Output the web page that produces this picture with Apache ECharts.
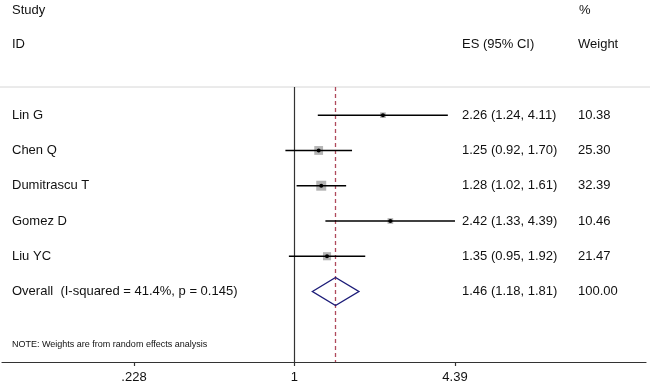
<!DOCTYPE html>
<html>
<head>
<meta charset="utf-8">
<script src="https://cdn.jsdelivr.net/npm/echarts@6/dist/echarts.min.js"></script>
<style>
  html, body { margin: 0; padding: 0; background: #fff; }
  #chart { width: 650px; height: 388px; }
</style>
</head>
<body>
<div id="chart"></div>
<script>
// study rows
const studies = ['Lin G', 'Chen Q', 'Dumitrascu T', 'Gomez D', 'Liu YC'];
const es = [2.26, 1.25, 1.28, 2.42, 1.35];
const lower = [1.24, 0.92, 1.02, 1.33, 0.95];
const upper = [4.11, 1.70, 1.61, 4.39, 1.92];
const weights = ['10.38', '25.30', '32.39', '10.46', '21.47'];

// pooled estimate
const overallLabel = 'Overall  (I-squared = 41.4%, p = 0.145)';
const overallEs = 1.46;
const overallLower = 1.18;
const overallUpper = 1.81;
const overallWeight = '100.00';

// axis ticks (log scale, shown as ln on a value axis)
const tickValues = [0.228, 1, 4.39];
const tickLabels = ['.228', '1', '4.39'];

const FONT = '"Liberation Sans", Arial, sans-serif';
const fmtCI = (e, l, u) => e.toFixed(2) + ' (' + l.toFixed(2) + ', ' + u.toFixed(2) + ')';

// layout: where the outer ticks should land, and the grid edges
const gridLeft = 2, gridRight = 4;
const tickLeftPx = 134, tickRightPx = 455;
const lnT0 = Math.log(tickValues[0]), lnT2 = Math.log(tickValues[2]);
const pxPerUnit = (tickRightPx - tickLeftPx) / (lnT2 - lnT0);
const xMin = lnT0 - (tickLeftPx - gridLeft) / pxPerUnit;
const xMax = lnT2 + (650 - gridRight - tickRightPx) / pxPerUnit;

const colName = 12, colES = 462, colW = 578;

const chart = echarts.init(document.getElementById('chart'));

const textStyle = (txt, x, y, size) => ({
  type: 'text',
  style: { text: txt, x: x, y: y, fill: '#111', font: (size || 13) + 'px ' + FONT, verticalAlign: 'middle' }
});

const studyData = studies.map((s, i) => [Math.log(es[i]), i, Math.log(lower[i]), Math.log(upper[i]), i]);

const option = {
  animation: false,
  textStyle: { fontFamily: FONT },
  grid: { left: gridLeft, right: gridRight, top: 87, bottom: 26 },
  xAxis: {
    type: 'value',
    min: xMin,
    max: xMax,
    axisLine: { show: true, onZero: false, lineStyle: { color: '#333', width: 1.2 } },
    axisTick: { show: true, length: 4, lineStyle: { color: '#333', width: 1.2 }, customValues: tickValues.map(Math.log) },
    axisLabel: {
      color: '#111', fontSize: 13, fontFamily: FONT, margin: 9,
      customValues: tickValues.map(Math.log),
      formatter: (v) => {
        const idx = tickValues.findIndex(t => Math.abs(Math.log(t) - v) < 1e-6);
        return idx >= 0 ? tickLabels[idx] : '';
      }
    },
    splitLine: { show: false }
  },
  yAxis: { type: 'value', inverse: true, min: -0.8, max: 7, show: false },
  graphic: [
    { type: 'line', shape: { x1: 0, y1: 87, x2: 650, y2: 87 }, style: { stroke: '#d6d6d6', lineWidth: 1 }, z: 0 },
    textStyle('Study', colName, 10),
    textStyle('ID', colName, 44),
    textStyle('ES (95% CI)', colES, 44),
    textStyle('%', colW + 1, 10),
    textStyle('Weight', colW, 44),
    textStyle('NOTE: Weights are from random effects analysis', colName, 345, 9)
  ],
  series: [
    {
      type: 'custom',
      name: 'studies',
      data: studyData,
      z: 5,
      renderItem: (params, api) => {
        const i = api.value(4);
        const c = api.coord([api.value(0), api.value(1)]);
        const lo = api.coord([api.value(2), api.value(1)]);
        const hi = api.coord([api.value(3), api.value(1)]);
        const side = 1.75 * Math.sqrt(parseFloat(weights[i]));
        return {
          type: 'group',
          children: [
            { type: 'rect', shape: { x: c[0] - side / 2, y: c[1] - side / 2, width: side, height: side },
              style: { fill: '#b4b4b4' } },
            { type: 'line', shape: { x1: lo[0], y1: lo[1], x2: hi[0], y2: hi[1] },
              style: { stroke: '#000', lineWidth: 1.4 } },
            { type: 'circle', shape: { cx: c[0], cy: c[1], r: 2 }, style: { fill: '#000' } },
            textStyle(studies[i], colName, c[1]),
            textStyle(fmtCI(es[i], lower[i], upper[i]), colES, c[1]),
            textStyle(weights[i], colW, c[1])
          ]
        };
      },
      // no-effect line at 1
      markLine: {
        silent: true,
        symbol: 'none',
        label: { show: false },
        lineStyle: { color: '#333', type: 'solid', width: 1.2 },
        data: [{ xAxis: 0, lineStyle: { color: '#333', type: 'solid', width: 1.2 } }]
      }
    },
    {
      type: 'custom',
      name: 'overall',
      data: [[Math.log(overallEs), studies.length, Math.log(overallLower), Math.log(overallUpper)]],
      z: 6,
      renderItem: (params, api) => {
        const c = api.coord([api.value(0), api.value(1)]);
        const lo = api.coord([api.value(2), api.value(1)]);
        const hi = api.coord([api.value(3), api.value(1)]);
        const h = 14;
        return {
          type: 'group',
          children: [
            { type: 'polygon',
              shape: { points: [[lo[0], c[1]], [c[0], c[1] - h], [hi[0], c[1]], [c[0], c[1] + h]] },
              style: { fill: 'none', stroke: '#1c1c78', lineWidth: 1.4 } },
            textStyle(overallLabel, colName, c[1]),
            textStyle(fmtCI(overallEs, overallLower, overallUpper), colES, c[1]),
            textStyle(overallWeight, colW, c[1])
          ]
        };
      },
      // pooled estimate line
      markLine: {
        silent: true,
        symbol: 'none',
        label: { show: false },
        lineStyle: { color: '#b04a5c', type: [4, 3], width: 1.3, opacity: 1 },
        data: [{ xAxis: Math.log(overallEs), lineStyle: { color: '#b04a5c', type: [4, 3], width: 1.3, opacity: 1 } }]
      }
    }
  ]
};

chart.setOption(option);
</script>
</body>
</html>
